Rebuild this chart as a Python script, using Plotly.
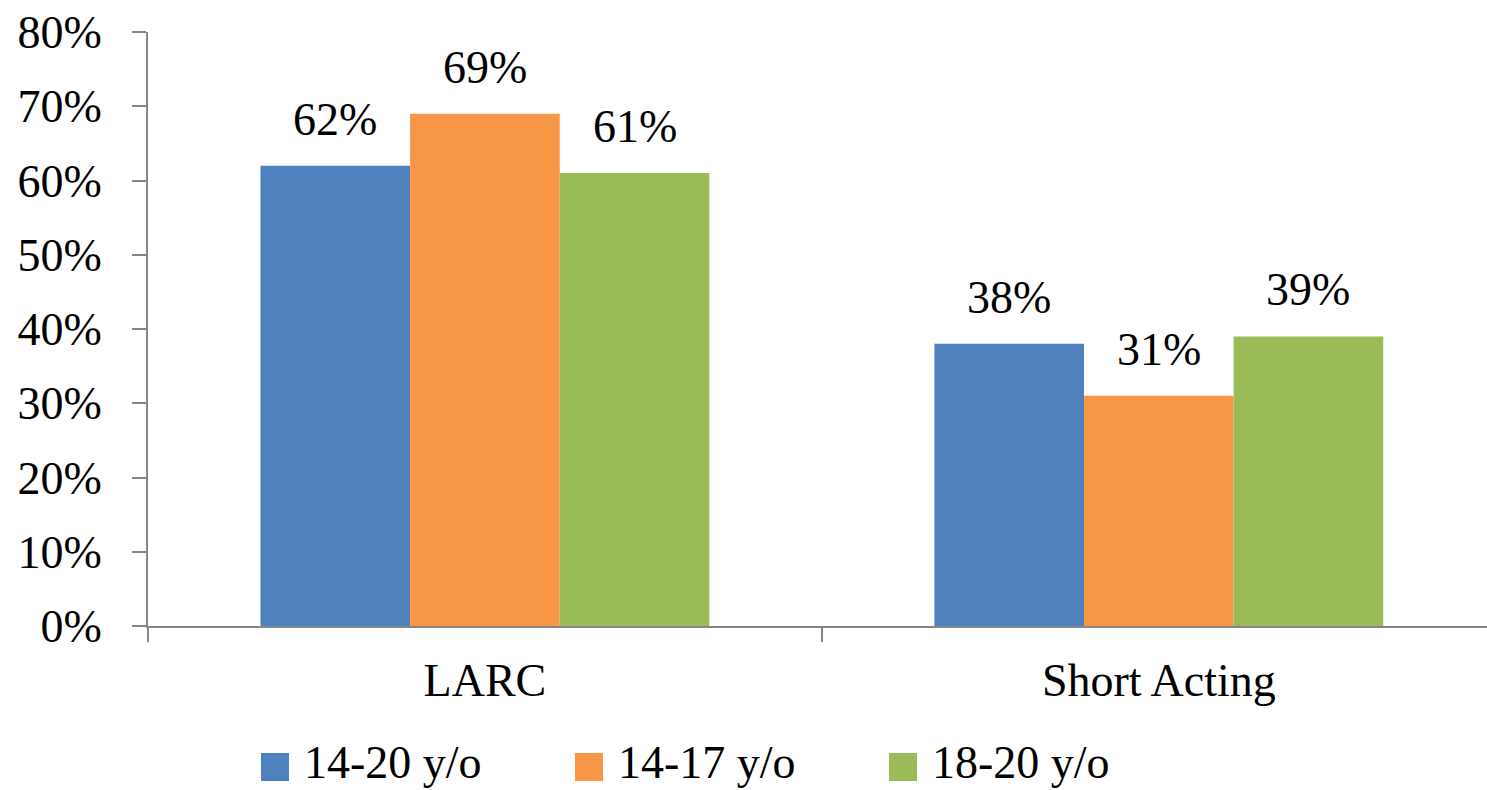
import plotly.graph_objects as go

# Contraceptive method split by age group
categories = ["LARC", "Short Acting"]
series_names = ["14-20 y/o", "14-17 y/o", "18-20 y/o"]
values_14_20 = [0.62, 0.38]
values_14_17 = [0.69, 0.31]
values_18_20 = [0.61, 0.39]
y_ticks = [0.0, 0.1, 0.2, 0.3, 0.4, 0.5, 0.6, 0.7, 0.8]
y_tick_labels = ["0%", "10%", "20%", "30%", "40%", "50%", "60%", "70%", "80%"]

colors = ["#4F81BD", "#F79646", "#9BBB59"]
series_values = [values_14_20, values_14_17, values_18_20]

FONT = "Liberation Serif"
FS = 46
W, H = 1487, 790
ML, MR, MT, MB = 148, 0, 32, 164
BARGAP = 0.334
X_RANGE = [-0.5, 1.487]


def text_font():
    return dict(family=FONT, size=FS, color="#000000")


fig = go.Figure()
for name, vals, col in zip(series_names, series_values, colors):
    fig.add_trace(go.Bar(
        x=categories, y=vals, name=name,
        marker=dict(color=col, line=dict(width=0)),
        showlegend=False,
    ))

# value labels above each bar
n = len(series_names)
bar_w = (1 - BARGAP) / n
annotations = []
for k, vals in enumerate(series_values):
    offset = (k - (n - 1) / 2) * bar_w
    for i, v in enumerate(vals):
        annotations.append(dict(
            x=i + offset, y=v, xref="x", yref="y",
            text=f"{round(v * 100)}%", showarrow=False,
            xanchor="center", yanchor="bottom", yshift=19,
            font=text_font(),
        ))

# legend drawn as colour swatches with labels below the axis
plot_w = W - ML - MR
plot_h = H - MT - MB


def px_to_paper_x(px):
    return (px - ML) / plot_w


def px_to_paper_y(py):
    return (H - MB - py) / plot_h


legend_swatch_x = [261, 575, 889]
swatch = 28
legend_top = 753
shapes = []
for name, col, sx in zip(series_names, colors, legend_swatch_x):
    shapes.append(dict(
        type="rect", xref="paper", yref="paper",
        x0=px_to_paper_x(sx), x1=px_to_paper_x(sx + swatch),
        y0=px_to_paper_y(legend_top + swatch), y1=px_to_paper_y(legend_top),
        fillcolor=col, line=dict(width=0),
    ))
    annotations.append(dict(
        x=px_to_paper_x(sx + swatch + 14), y=px_to_paper_y(legend_top + swatch / 2 - 5),
        xref="paper", yref="paper", text=name, showarrow=False,
        xanchor="left", yanchor="middle", borderpad=0,
        font=text_font(),
    ))

axis_color = "#868686"
fig.update_layout(
    width=W, height=H,
    margin=dict(l=ML, r=MR, t=MT, b=MB, pad=0),
    barmode="group", bargap=BARGAP, bargroupgap=0,
    plot_bgcolor="white", paper_bgcolor="white",
    font=text_font(),
    annotations=annotations, shapes=shapes,
    xaxis=dict(
        type="category", range=X_RANGE,
        showline=True, linecolor=axis_color, linewidth=2,
        ticks="outside", tickson="boundaries", ticklen=14, tickwidth=2,
        tickcolor=axis_color, showgrid=False, ticklabelstandoff=13,
        tickfont=text_font(),
    ),
    yaxis=dict(
        range=[0, 0.8], tickvals=y_ticks, ticktext=y_tick_labels,
        showline=True, linecolor=axis_color, linewidth=2,
        ticks="outside", ticklen=14, tickwidth=2, tickcolor=axis_color,
        showgrid=False, zeroline=False, ticklabelstandoff=21,
        tickfont=text_font(),
    ),
)

fig.write_html("out.html")
